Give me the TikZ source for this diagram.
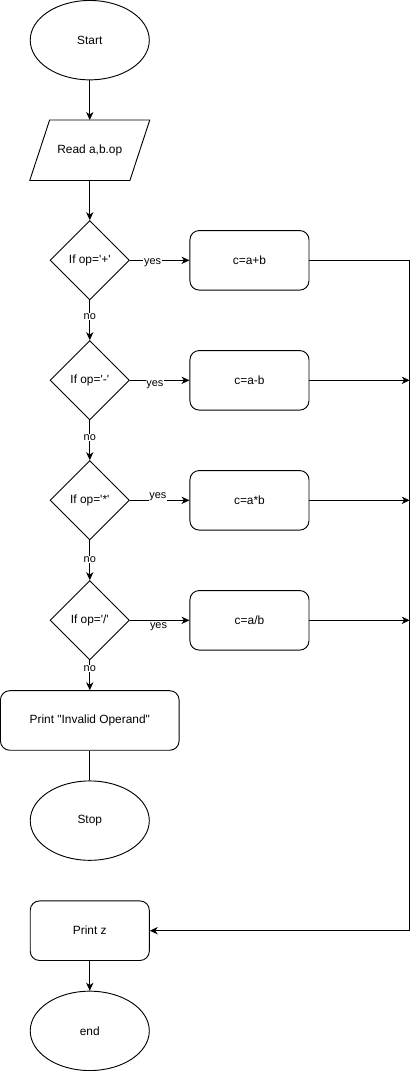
\documentclass[tikz,border=0pt]{standalone}
\usepackage{fontspec}
\setmainfont{Liberation Sans}[Ligatures=TeXOff]
\usetikzlibrary{arrows.meta,positioning,calc,shapes.geometric}

\begin{document}
\begin{tikzpicture}[
  node distance=30pt,
  line width=0.7pt,
  every node/.style={font=\fontsize{9}{11}\selectfont},
  term/.style={draw,ellipse,minimum width=90pt,minimum height=60pt,inner sep=1pt},
  io/.style={minimum width=90pt,minimum height=45pt,inner sep=1pt},
  cond/.style={draw,diamond,minimum width=60pt,minimum height=60pt,inner sep=0pt},
  proc/.style={draw,rounded corners=7pt,minimum width=90pt,minimum height=45pt},
  lbl/.style={fill=white,inner sep=0.6pt,font=\fontsize{8.25}{10}\selectfont},
  ar/.style={-{Stealth[length=6pt,width=5.5pt,inset=1.8pt]},draw=black}
]
\node[term] (start) {Start};
\node[io, below=of start] (read) {Read a,b.op};
\node[cond, below=of read] (ifplus) {If op='+'};
\node[cond, below=of ifplus] (ifminus) {If op='-'};
\node[cond, below=of ifminus] (iftimes) {If op='*'};
\node[cond, below=of iftimes] (ifdiv) {If op='/'};
\node[proc, minimum width=135pt, below=22.5pt of ifdiv] (invalid) {Print "Invalid Operand"};
\node[term, below=22.5pt of invalid] (stop) {Stop};
\node[proc, below=of stop] (printz) {Print z};
\node[term, below=22.5pt of printz] (end) {end};

\node[proc, right=45pt of ifplus] (plus) {c=a+b};
\node[proc, right=45pt of ifminus] (minus) {c=a-b};
\node[proc, right=45pt of iftimes] (times) {c=a*b};
\node[proc, right=45pt of ifdiv] (div) {c=a/b};

\draw (read.south west) -- ($(read.south east)+(-15pt,0)$) -- (read.north east)
      -- ($(read.north west)+(15pt,0)$) -- cycle;

\coordinate (bus) at ($(plus.east)+(75.75pt,0)$);

\draw[ar] (start) -- (read);
\draw[ar] (read) -- (ifplus);
\draw[ar] (ifplus) -- node[lbl,pos=0.38,yshift=-1.5pt]{yes} (plus);
\draw[ar] (ifminus) -- node[lbl,pos=0.42,yshift=-3pt]{yes} (minus);
\draw[ar] (iftimes) -- node[lbl,pos=0.47,yshift=2.5pt]{yes} (times);
\draw[ar] (ifdiv) -- node[lbl,pos=0.48,yshift=-4.5pt]{yes} (div);
\draw[ar] (ifplus) -- node[lbl,pos=0.4]{no} (ifminus);
\draw[ar] (ifminus) -- node[lbl,pos=0.43]{no} (iftimes);
\draw[ar] (iftimes) -- node[lbl,pos=0.48]{no} (ifdiv);
\draw[ar] (ifdiv) -- node[lbl,pos=0.27]{no} (invalid);
\draw (invalid) -- (stop);
\draw[ar] (printz) -- (end);

\draw[ar] (plus.east) -- (plus.east -| bus) |- (printz.east);
\draw[ar] (minus.east) -- (minus.east -| bus);
\draw[ar] (times.east) -- (times.east -| bus);
\draw[ar] (div.east) -- (div.east -| bus);

\useasboundingbox ($(start.north)+(-67.5pt,0)$) rectangle ++(315pt,-803.25pt);
\end{tikzpicture}
\end{document}
